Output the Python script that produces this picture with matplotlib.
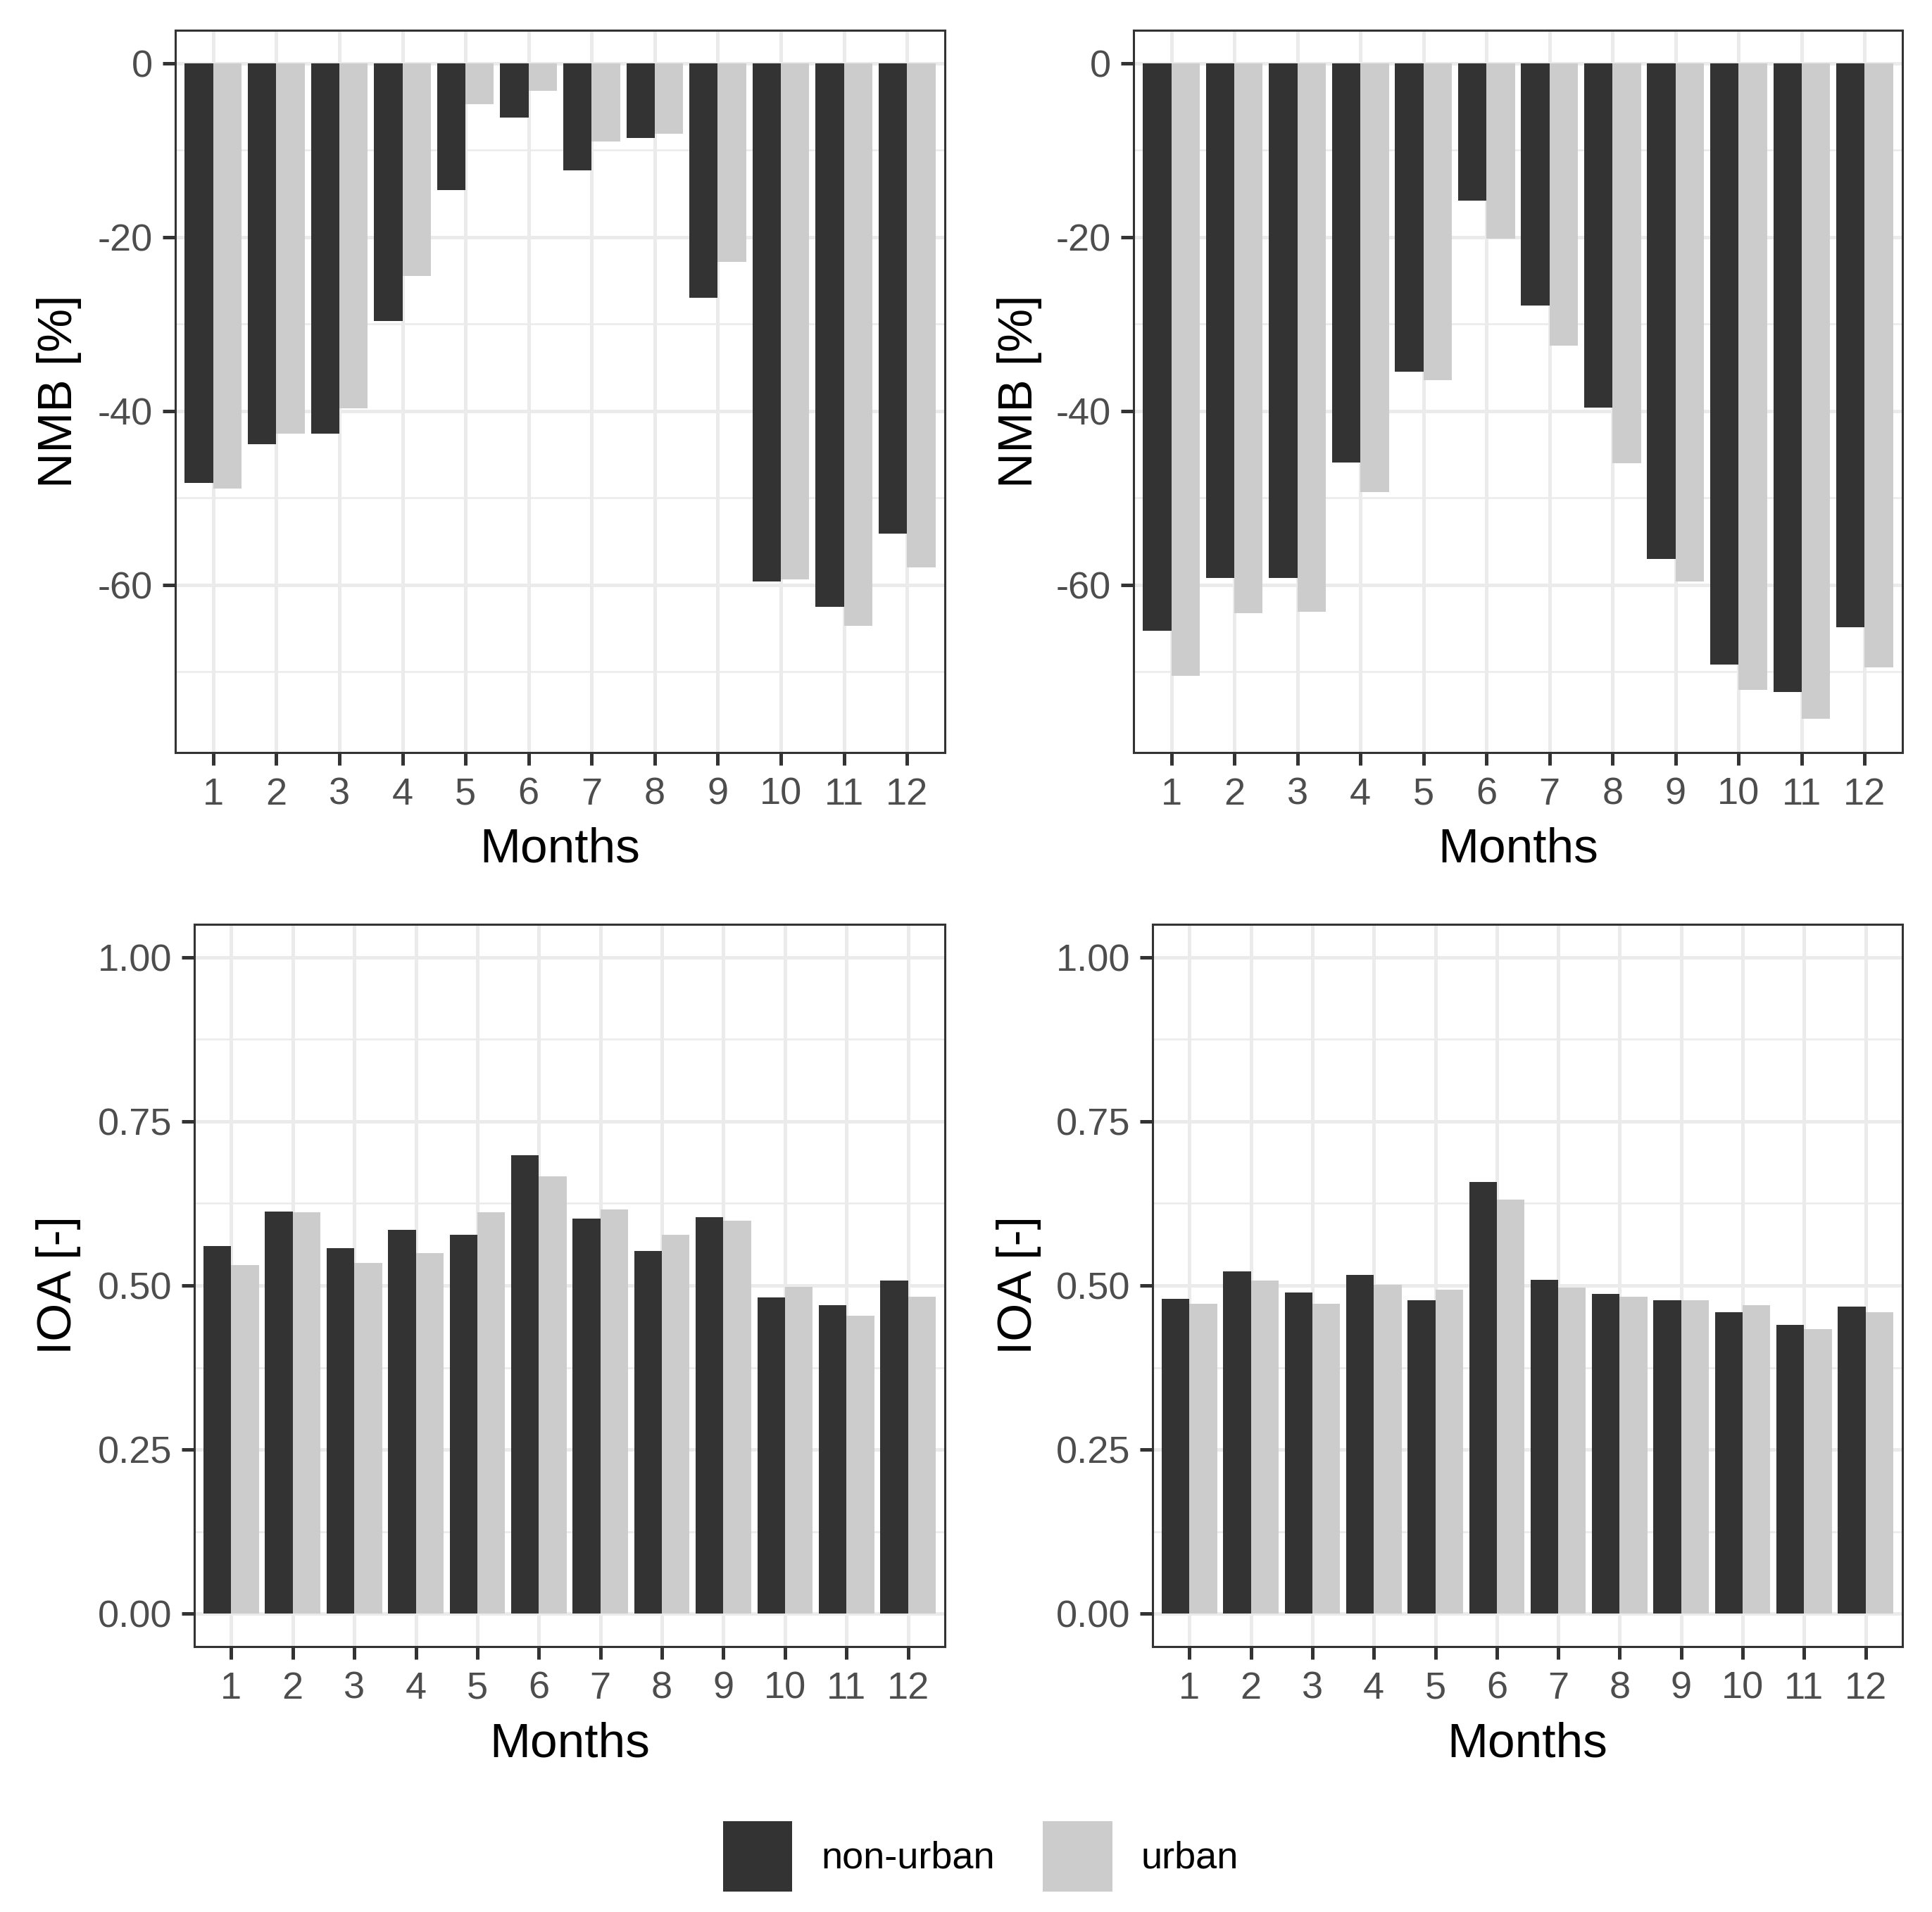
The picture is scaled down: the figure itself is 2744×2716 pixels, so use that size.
import numpy as np
import matplotlib
matplotlib.use("Agg")
import matplotlib.pyplot as plt

plt.rcParams['font.family'] = ['Liberation Sans', 'DejaVu Sans']
plt.rcParams['axes.unicode_minus'] = False

months = [str(m) for m in range(1, 13)]
series_names = ["non-urban", "urban"]

nmb_left_nonurban = [-48.3, -43.8, -42.6, -29.7, -14.6, -6.3, -12.3, -8.6, -27.0, -59.6, -62.5, -54.1]
nmb_left_urban = [-48.9, -42.6, -39.7, -24.5, -4.7, -3.2, -9.0, -8.1, -22.9, -59.4, -64.7, -58.0]
nmb_right_nonurban = [-65.3, -59.2, -59.2, -45.9, -35.5, -15.8, -27.9, -39.6, -57.0, -69.2, -72.3, -64.9]
nmb_right_urban = [-70.5, -63.3, -63.1, -49.3, -36.5, -20.2, -32.5, -46.0, -59.6, -72.1, -75.4, -69.5]

ioa_left_nonurban = [0.560, 0.613, 0.557, 0.585, 0.577, 0.698, 0.602, 0.552, 0.604, 0.482, 0.470, 0.508]
ioa_left_urban = [0.531, 0.611, 0.534, 0.549, 0.611, 0.666, 0.616, 0.577, 0.599, 0.498, 0.454, 0.483]
ioa_right_nonurban = [0.480, 0.521, 0.489, 0.516, 0.477, 0.658, 0.509, 0.487, 0.478, 0.459, 0.440, 0.468]
ioa_right_urban = [0.472, 0.508, 0.472, 0.501, 0.494, 0.631, 0.497, 0.483, 0.477, 0.470, 0.433, 0.459]

nmb_ticks = [0, -20, -40, -60]
nmb_tick_labels = ["0", "-20", "-40", "-60"]
nmb_minor = [-10, -30, -50, -70]
ioa_ticks = [0.0, 0.25, 0.5, 0.75, 1.0]
ioa_tick_labels = ["0.00", "0.25", "0.50", "0.75", "1.00"]
ioa_minor = [0.125, 0.375, 0.625, 0.875]

DARK = "#333333"
LIGHT = "#CCCCCC"
W, H = 2744, 2716
DPI = 100
fig = plt.figure(figsize=(W / DPI, H / DPI), dpi=DPI)

TICK_FS = 39
TITLE_FS = 50


def place(x0, x1, y0, y1):
    return [x0 / W, 1 - y1 / H, (x1 - x0) / W, (y1 - y0) / H]


def panel(rect, a, b, ylim, ticks, labels, minor, ylabel, ylab_x):
    ax = fig.add_axes(place(*rect))
    x = np.arange(1, 13)
    bars_a = ax.bar(x - 0.225, a, width=0.45, color=DARK, linewidth=0, zorder=2)
    bars_b = ax.bar(x + 0.225, b, width=0.45, color=LIGHT, linewidth=0, zorder=2)
    ax.set_xlim(0.4, 12.6)
    ax.set_ylim(*ylim)
    ax.set_xticks(x)
    ax.set_xticklabels(months)
    ax.set_yticks(ticks)
    ax.set_yticklabels(labels)
    ax.set_yticks(minor, minor=True)
    ax.set_axisbelow(True)
    ax.grid(True, which='major', color="#EBEBEB", linewidth=3.6, zorder=0)
    ax.grid(True, which='minor', axis='y', color="#EBEBEB", linewidth=1.8, zorder=0)
    ax.tick_params(which='major', length=13, width=3.6, color="#333333",
                   labelsize=TICK_FS, labelcolor="#4D4D4D")
    ax.tick_params(axis='x', which='major', pad=12)
    ax.tick_params(axis='y', which='major', pad=10)
    ax.tick_params(which='minor', length=0)
    for s in ax.spines.values():
        s.set_color("#333333")
        s.set_linewidth(2.2)
        s.set_zorder(5)
    x0, x1, y0, y1 = rect
    fig.text(ylab_x / W, 1 - ((y0 + y1) / 2) / H, ylabel, rotation=90,
             ha='center', va='center', fontsize=TITLE_FS, color='black')
    fig.text(((x0 + x1) / 2) / W, 1 - (y1 + 156) / H, "Months",
             ha='center', va='baseline', fontsize=TITLE_FS, color='black')
    return bars_a, bars_b


nmb_lim = (-79.3, 3.78)
ioa_lim = (-0.05, 1.05)

h1, h2 = panel((249, 1342, 43, 1069), nmb_left_nonurban, nmb_left_urban, nmb_lim,
               nmb_ticks, nmb_tick_labels, nmb_minor, "NMB [%]", 84)
panel((1610, 2702, 43, 1069), nmb_right_nonurban, nmb_right_urban, nmb_lim,
      nmb_ticks, nmb_tick_labels, nmb_minor, "NMB [%]", 1448)
panel((276, 1342, 1313, 2339), ioa_left_nonurban, ioa_left_urban, ioa_lim,
      ioa_ticks, ioa_tick_labels, ioa_minor, "IOA [-]", 83)
panel((1637, 2702, 1313, 2339), ioa_right_nonurban, ioa_right_urban, ioa_lim,
      ioa_ticks, ioa_tick_labels, ioa_minor, "IOA [-]", 1447)

leg = fig.legend([h1, h2], series_names, loc='center',
                 bbox_to_anchor=(1393 / W, 1 - 2637 / H), ncol=2, frameon=False,
                 fontsize=TICK_FS, handlelength=1.82, handleheight=2.45,
                 handletextpad=0.76, columnspacing=1.25, borderpad=0, borderaxespad=0)

fig.savefig("out.png", dpi=DPI)
